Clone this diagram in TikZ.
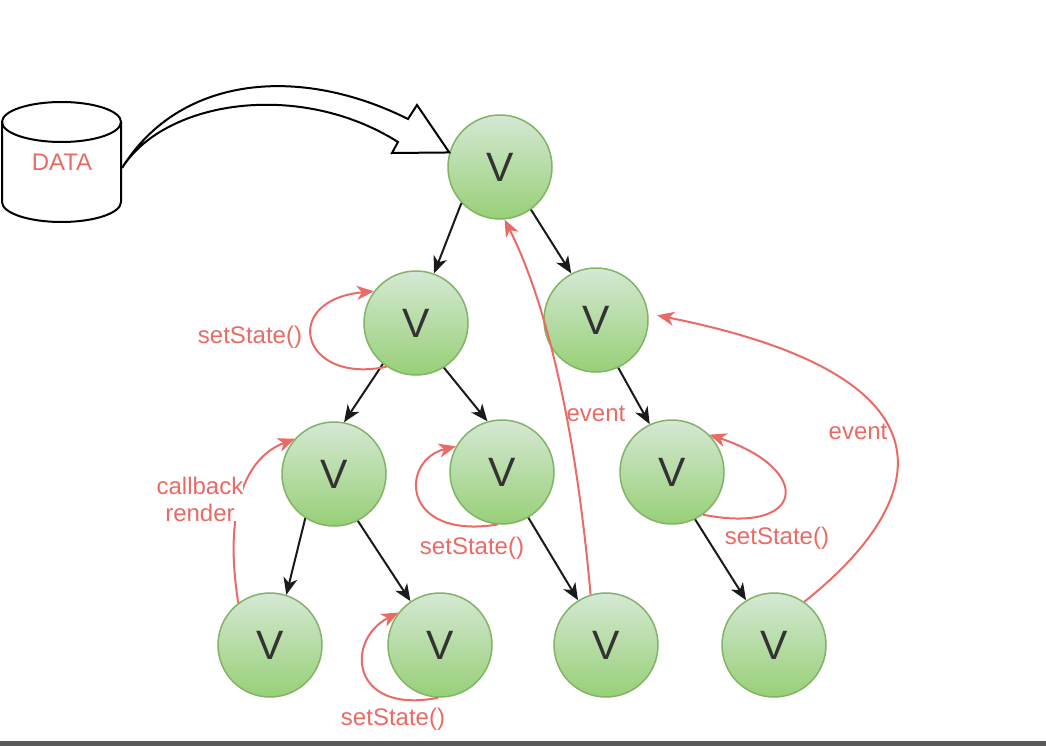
\documentclass[tikz,border=0pt]{standalone}
\usepackage{fontspec}
\setmainfont{Liberation Sans}
\usetikzlibrary{arrows.meta}
\definecolor{nodeline}{HTML}{82B366}
\definecolor{nodetop}{HTML}{D5E8D4}
\definecolor{nodebot}{HTML}{97D077}
\definecolor{vtext}{HTML}{333333}
\definecolor{redline}{HTML}{EA6B66}
\definecolor{edgeblack}{HTML}{1A1A1A}
\tikzset{
  vnode/.style={circle, minimum size=104pt, inner sep=0pt, draw=nodeline,
    line width=1.5pt, top color=nodetop, bottom color=nodebot,
    text=vtext, font=\fontsize{41}{44}\selectfont},
  treeedge/.style={draw=edgeblack, line width=2pt,
    -{Stealth[length=17pt,width=14pt,inset=5pt]}},
  redflow/.style={draw=redline, line width=2pt,
    -{Stealth[length=17pt,width=14pt,inset=5pt]}},
  redlabel/.style={text=redline, font=\fontsize{24}{27}\selectfont,
    inner sep=1pt, align=center},
}
\begin{document}
\begin{tikzpicture}[x=1pt, y=-1pt]
\useasboundingbox (0,0) rectangle (1046,746);
\fill[white] (0,0) rectangle (1046,746);
% cut-off strip along the lower edge
\fill[black!65] (0,741) rectangle (1046,746);

% data store (cylinder)
\draw[line width=2pt, fill=white] (2,122) -- (2,202)
  .. controls (2,213) and (28.6,222) .. (61.5,222)
  .. controls (94.4,222) and (121,213) .. (121,202) -- (121,122);
\draw[line width=2pt] (61.5,122) ellipse [x radius=59.5, y radius=20];
\node[redlabel] (data) at (62,162) {DATA};

% component tree
\node[vnode] (root) at (500,167) {V};
\node[vnode] (l1a) at (416,323) {V};
\node[vnode] (l1b) at (596,320) {V};
\node[vnode] (l2a) at (334,474) {V};
\node[vnode] (l2b) at (502,472) {V};
\node[vnode] (l2c) at (672,472) {V};
\node[vnode] (l3a) at (270,645) {V};
\node[vnode] (l3b) at (440,645) {V};
\node[vnode] (l3c) at (606,645) {V};
\node[vnode] (l3d) at (774,645) {V};

% hollow arrow feeding the data into the root
\coordinate (feedstart) at (122,168);
\coordinate (feedtip) at (root.164);
\draw[line width=2pt, fill=white, line join=miter]
  (feedstart) .. controls (180,75) and (300,65) .. (408,119)
  -- (417,105) -- (feedtip) -- (392,153) -- (398,142)
  .. controls (300,80) and (165,100) .. (feedstart) -- cycle;

% parent -> child edges
\draw[treeedge] (root.223) -- (l1a.70);
\draw[treeedge] (root.306) -- (l1b.118);
\draw[treeedge] (l1a.231) -- (l2a.79);
\draw[treeedge] (l1a.302) -- (l2b.106);
\draw[treeedge] (l1b.295) -- (l2c.115);
\draw[treeedge] (l2a.237) -- (l3a.72);
\draw[treeedge] (l2a.297) -- (l3b.124);
\draw[treeedge] (l2b.300) -- (l3c.122);
\draw[treeedge] (l2c.296) -- (l3d.122);

% setState() loops
\draw[redflow] (l1a.236) .. controls (300,385) and (280,300) .. (l1a.143);
\node[redlabel] (ss1) at (250,337) {setState()};

\draw[redflow] (l2b.265) .. controls (400,540) and (400,460) .. (l2b.151);
\node[redlabel] (ss2) at (472,548) {setState()};

\draw[redflow] (l2c.306) .. controls (805,535) and (815,470) .. (l2c.45);
\node[redlabel] (ss3) at (777,538) {setState()};

\draw[redflow] (l3b.268) .. controls (350,715) and (345,640) .. (l3b.142);
\node[redlabel] (ss4) at (393,719) {setState()};

% callback render
\draw[redflow] (l3a.127) .. controls (225,520) and (240,460) .. (l2a.138);
\node[redlabel, fill=white, inner sep=0pt] (cb) at (200,499) {callback\\render};

% events bubbling up
\draw[redflow] (l3c.107) .. controls (575,420) and (545,300) .. (root.275);
\node[redlabel] (ev1) at (596,414) {event};

\draw[redflow, shorten >=9pt] (l3d.55) .. controls (920,510) and (980,380) .. (l1b.7);
\node[redlabel] (ev2) at (858,432) {event};
\end{tikzpicture}
\end{document}
